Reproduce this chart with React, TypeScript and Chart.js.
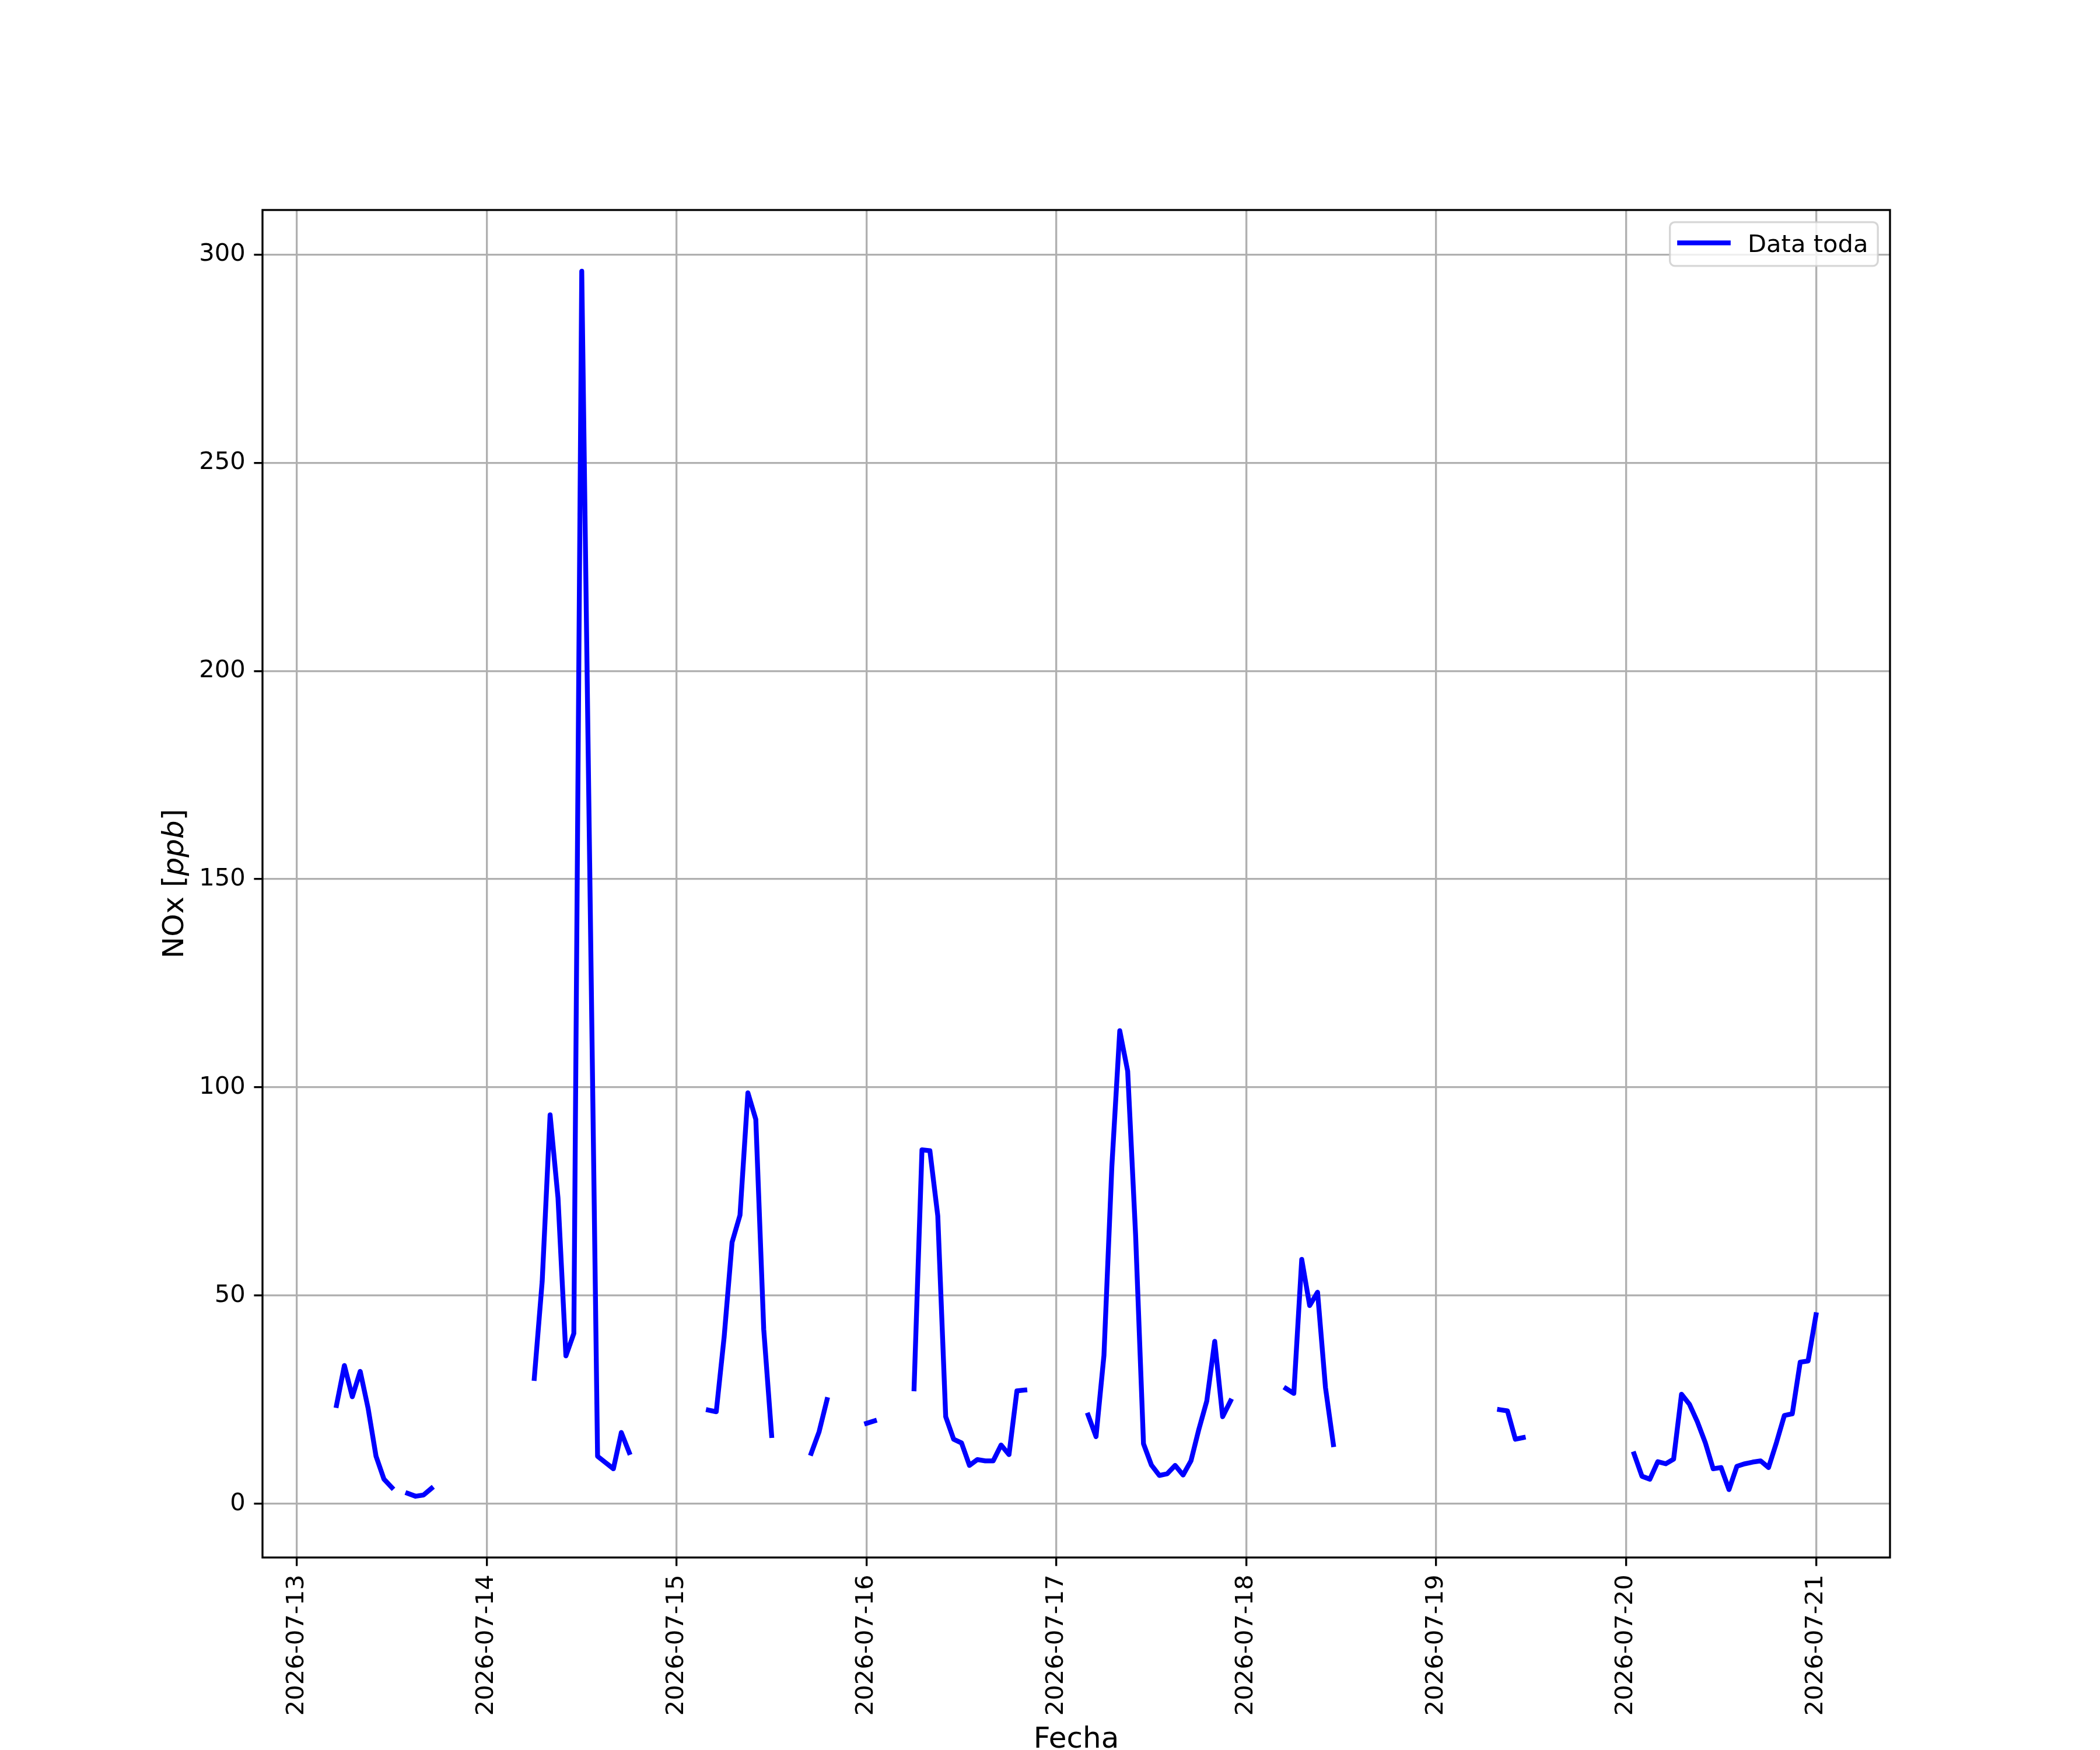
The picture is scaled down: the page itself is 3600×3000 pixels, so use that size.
import { useEffect, useRef } from "react";
import { Chart, registerables } from "chart.js";

Chart.register(...registerables);

// daily tick labels (x axis), one per midnight
const dayLabels = [
  "2026-07-13",
  "2026-07-14",
  "2026-07-15",
  "2026-07-16",
  "2026-07-17",
  "2026-07-18",
  "2026-07-19",
  "2026-07-20",
  "2026-07-21",
];

// hourly NOx [ppb], hours 00..23, null = no data
const nox0713 = [null, null, null, null, null, 23.6, 33.2, 25.7, 31.8, 22.9, 11.4, 5.9, 3.9, null, 2.5, 1.8, 2.1, 3.7, null, null, null, null, null, null];
const nox0714 = [null, null, null, null, null, null, 30.1, 53.4, 93.4, 73.4, 35.5, 40.9, 296.0, 154.0, 11.4, 9.9, 8.4, 17.1, 12.3, null, null, null, null, null];
const nox0715 = [null, null, null, null, 22.5, 22.1, 40.1, 62.8, 69.3, 98.7, 92.3, 41.9, 16.4, null, null, null, null, 12.1, 17.3, 25.0, null, null, null, null];
const nox0716 = [19.3, 19.9, null, null, null, null, 27.6, 85.0, 84.8, 69.1, 20.9, 15.5, 14.6, 9.2, 10.6, 10.3, 10.3, 14.1, 11.8, 27.1, 27.3, null, null, null];
const nox0717 = [null, null, null, null, 21.3, 16.1, 35.6, 81.0, 113.6, 103.9, 64.6, 14.4, 9.3, 6.8, 7.2, 9.2, 6.9, 10.3, 17.9, 24.7, 39.0, 20.9, 24.7, null];
const nox0718 = [null, null, null, null, null, 27.7, 26.5, 58.7, 47.6, 50.8, 27.9, 14.2, null, null, null, null, null, null, null, null, null, null, null, null];
const nox0719 = [null, null, null, null, null, null, null, null, 22.6, 22.3, 15.5, 15.9, null, null, null, null, null, null, null, null, null, null, null, null];
const nox0720 = [null, 12.0, 6.6, 5.9, 10.1, 9.6, 10.7, 26.3, 23.9, 19.7, 14.7, 8.4, 8.7, 3.4, 9.0, 9.6, 10.0, 10.3, 8.7, 14.7, 21.2, 21.6, 34.0, 34.3];
const nox0721 = [45.4];

const noxDays = [nox0713, nox0714, nox0715, nox0716, nox0717, nox0718, nox0719, nox0720, nox0721];

const yTicks = [0, 50, 100, 150, 200, 250, 300];

const PT = 300 / 72; // matplotlib points -> px at 300 dpi
const FONT = "'DejaVu Sans', 'Liberation Sans', sans-serif";

const axesFrame = {
  id: "axesFrame",
  afterDatasetsDraw(chart: any) {
    const { ctx, chartArea: a } = chart;
    ctx.save();
    ctx.strokeStyle = "#000";
    ctx.lineWidth = 0.8 * PT;
    ctx.strokeRect(a.left, a.top, a.right - a.left, a.bottom - a.top);
    ctx.restore();
  },
};

const axisTitles = {
  id: "axisTitles",
  afterDraw(chart: any) {
    const { ctx, chartArea: a } = chart;
    const fs = 12 * PT;
    ctx.save();
    ctx.fillStyle = "#000";
    ctx.textBaseline = "alphabetic";

    // x title
    ctx.font = `${fs}px ${FONT}`;
    ctx.textAlign = "center";
    ctx.fillText("Fecha", (a.left + a.right) / 2, 2996);

    // y title: NOx [$ppb$]
    const parts = [
      { t: "NOx [", f: `${fs}px ${FONT}` },
      { t: "ppb", f: `italic ${fs}px ${FONT}` },
      { t: "]", f: `${fs}px ${FONT}` },
    ];
    let total = 0;
    const widths = parts.map((p) => {
      ctx.font = p.f;
      const w = ctx.measureText(p.t).width;
      total += w;
      return w;
    });
    ctx.translate(314, (a.top + a.bottom) / 2);
    ctx.rotate(-Math.PI / 2);
    ctx.textAlign = "left";
    let x = -total / 2;
    parts.forEach((p, i) => {
      ctx.font = p.f;
      ctx.fillText(p.t, x, 0);
      x += widths[i];
    });
    ctx.restore();
  },
};

const legendBox = {
  id: "legendBox",
  afterDraw(chart: any) {
    const { ctx, chartArea: a } = chart;
    const ds = chart.data.datasets[0];
    const fs = 10 * PT;
    ctx.save();
    ctx.font = `${fs}px ${FONT}`;
    const tw = ctx.measureText(ds.label).width;
    const pad = 0.4 * fs;
    const handle = 2.0 * fs;
    const gap = 0.8 * fs;
    const w = pad * 2 + handle + gap + tw;
    const h = 75;
    const x0 = a.right - 0.5 * fs - w;
    const y0 = a.top + 0.5 * fs;
    const r = 0.2 * fs;

    ctx.beginPath();
    ctx.roundRect(x0, y0, w, h, r);
    ctx.globalAlpha = 0.8;
    ctx.fillStyle = "#ffffff";
    ctx.fill();
    ctx.strokeStyle = "#cccccc";
    ctx.lineWidth = 0.8 * PT;
    ctx.stroke();
    ctx.globalAlpha = 1;

    const cy = y0 + h / 2 - 2;
    ctx.beginPath();
    ctx.moveTo(x0 + pad, cy);
    ctx.lineTo(x0 + pad + handle, cy);
    ctx.strokeStyle = ds.borderColor;
    ctx.lineWidth = ds.borderWidth;
    ctx.lineCap = "square";
    ctx.stroke();

    ctx.fillStyle = "#000";
    ctx.textAlign = "left";
    ctx.textBaseline = "alphabetic";
    ctx.fillText(ds.label, x0 + pad + handle + gap, cy + 15.5);
    ctx.restore();
  },
};

export default function App() {
  const canvasRef = useRef<HTMLCanvasElement | null>(null);

  useEffect(() => {
    const canvas = canvasRef.current;
    if (!canvas) return;

    const points = noxDays.flatMap((day, d) =>
      day.map((v, h) => ({ x: d * 24 + h, y: v }))
    );
    const valid = points.filter((p) => p.y !== null) as { x: number; y: number }[];
    const xs = valid.map((p) => p.x);
    const ys = valid.map((p) => p.y);
    const xMin = Math.min(...xs);
    const xMax = Math.max(...xs);
    const yMin = Math.min(...ys);
    const yMax = Math.max(...ys);
    const xm = (xMax - xMin) * 0.05;
    const ym = (yMax - yMin) * 0.05;

    const tickFont = { family: FONT, size: 10 * PT };
    const grid = {
      color: "#b0b0b0",
      lineWidth: 0.8 * PT,
      drawTicks: true,
      tickLength: 3.5 * PT,
      tickColor: "#000",
      tickWidth: 0.8 * PT,
    };

    const chart = new Chart(canvas, {
      type: "line",
      data: {
        datasets: [
          {
            label: "Data toda",
            data: points as any,
            borderColor: "#0000ff",
            borderWidth: 2 * PT,
            pointRadius: 0,
            tension: 0,
            spanGaps: false,
            borderCapStyle: "square",
            borderJoinStyle: "round",
          },
        ],
      },
      options: {
        animation: false,
        responsive: false,
        devicePixelRatio: 1,
        layout: { padding: { left: 0, top: 360, right: 360, bottom: 0 } },
        plugins: {
          legend: { display: false },
          tooltip: { enabled: false },
        },
        scales: {
          x: {
            type: "linear",
            min: xMin - xm,
            max: xMax + xm,
            grid,
            border: { display: false },
            afterBuildTicks: (s: any) => {
              s.ticks = dayLabels.map((_, i) => ({ value: i * 24 }));
            },
            afterFit: (s: any) => {
              s.height = 330;
            },
            ticks: {
              autoSkip: false,
              minRotation: 90,
              maxRotation: 90,
              padding: 3.5 * PT,
              color: "#000",
              font: tickFont,
              callback: (v: any) => dayLabels[Math.round(Number(v) / 24)],
            },
          },
          y: {
            type: "linear",
            min: yMin - ym,
            max: yMax + ym,
            grid,
            border: { display: false },
            afterBuildTicks: (s: any) => {
              s.ticks = yTicks.map((v) => ({ value: v }));
            },
            afterFit: (s: any) => {
              s.width = 450;
            },
            ticks: {
              padding: 3.5 * PT,
              color: "#000",
              font: tickFont,
              callback: (v: any) => String(v),
            },
          },
        },
      },
      plugins: [axesFrame, axisTitles, legendBox],
    });

    return () => {
      chart.destroy();
    };
  }, []);

  return (
    <div style={{ position: "absolute", left: 0, top: 0, width: 3600, height: 3000, background: "#fff" }}>
      <canvas ref={canvasRef} width={3600} height={3000} style={{ width: 3600, height: 3000 }} />
    </div>
  );
}
